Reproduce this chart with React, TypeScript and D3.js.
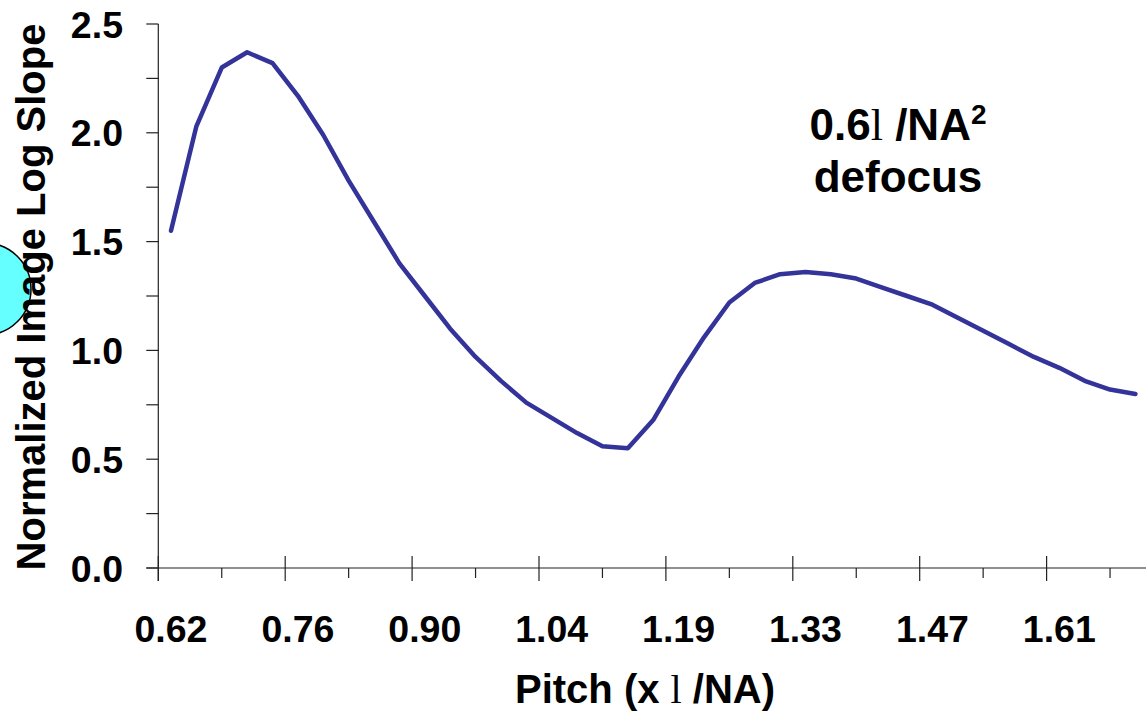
import React from 'react';
import * as d3 from 'd3';

// pitch categories (x lambda/NA), one per data point
const pitches = [
  '0.62', '0.65', '0.68', '0.71', '0.73', '0.76', '0.79', '0.82', '0.85', '0.87',
  '0.90', '0.93', '0.96', '0.99', '1.02', '1.04', '1.07', '1.10', '1.13', '1.16',
  '1.19', '1.21', '1.24', '1.27', '1.30', '1.33', '1.36', '1.38', '1.41', '1.44',
  '1.47', '1.50', '1.53', '1.55', '1.58', '1.61', '1.64', '1.67', '1.70',
];

// normalized image log slope at 0.6 lambda/NA^2 defocus
const nils = [
  1.55, 2.03, 2.30, 2.37, 2.32, 2.17, 1.99, 1.78, 1.59, 1.40,
  1.25, 1.10, 0.97, 0.86, 0.76, 0.69, 0.62, 0.56, 0.55, 0.68,
  0.88, 1.06, 1.22, 1.31, 1.35, 1.36, 1.35, 1.33, 1.29, 1.25,
  1.21, 1.15, 1.09, 1.03, 0.97, 0.92, 0.86, 0.82, 0.80,
];

const yTicks = [0, 0.5, 1.0, 1.5, 2.0, 2.5];
const yMinorTicks = [0.25, 0.75, 1.25, 1.75, 2.25];

const W = 1146;
const H = 714;
const FONT = '"Liberation Sans", Arial, sans-serif';
const SERIF = '"Liberation Serif", "Times New Roman", serif';

export default function App() {
  const left = 158.3;
  const step = 25.38;
  const x = d3.scaleBand<string>()
    .domain(pitches)
    .range([left, left + step * pitches.length])
    .padding(0);
  const y = d3.scaleLinear().domain([0, 2.5]).range([568, 24]);

  const cx = (c: string) => (x(c) as number) + x.bandwidth() / 2;

  const line = d3.line<number>()
    .x((_, i) => cx(pitches[i]))
    .y(d => y(d));

  // major ticks on category boundaries every 5 categories, minor halfway between
  const majorIdx = d3.range(0, pitches.length, 5);
  const minorIdx = majorIdx.map(i => i + 2.5);
  const x0 = x.range()[0];
  const s = x.step();
  const y0 = y(0);

  return (
    <svg width={W} height={H} style={{ position: 'absolute', left: 0, top: 0, background: '#fff' }}>
      {/* cyan marker behind the y title */}
      <circle cx={-15} cy={289} r={46} fill="#66ffff" stroke="#000" strokeWidth={1.5} />

      {/* y axis */}
      <line x1={x0} x2={x0} y1={y(2.5)} y2={y0 + 13} stroke="#222" strokeWidth={1.2} />
      {[...yTicks, ...yMinorTicks].map(t => (
        <line key={'yt' + t} x1={x0 - 12} x2={x0} y1={y(t)} y2={y(t)} stroke="#222" strokeWidth={1.2} />
      ))}
      {yTicks.map(t => (
        <text key={'yl' + t} x={123} y={y(t)} dy="0.36em" textAnchor="end"
          fontFamily={FONT} fontWeight="bold" fontSize={37.5} fill="#000">
          {d3.format('.1f')(t)}
        </text>
      ))}

      {/* x axis */}
      <line x1={x0 - 12} x2={x.range()[1]} y1={y0} y2={y0} stroke="#222" strokeWidth={1.2} />
      {majorIdx.map(i => (
        <line key={'xm' + i} x1={x0 + i * s} x2={x0 + i * s} y1={y0 - 12} y2={y0 + 13} stroke="#222" strokeWidth={1.2} />
      ))}
      {minorIdx.map(i => (
        <line key={'xn' + i} x1={x0 + i * s} x2={x0 + i * s} y1={y0} y2={y0 + 10} stroke="#222" strokeWidth={1.2} />
      ))}
      {majorIdx.map(i => (
        <text key={'xl' + i} x={cx(pitches[i])} y={642} textAnchor="middle"
          fontFamily={FONT} fontWeight="bold" fontSize={37.5} fill="#000">
          {pitches[i]}
        </text>
      ))}

      {/* data line */}
      <path d={line(nils) as string} fill="none" stroke="#333399" strokeWidth={4.5} strokeLinejoin="round" strokeLinecap="round" />

      {/* axis titles */}
      <text x={645} y={703} textAnchor="middle" fontFamily={FONT} fontWeight="bold" fontSize={40} fill="#000">
        Pitch (x <tspan fontFamily={SERIF} fontWeight="normal">l</tspan> /NA)
      </text>
      <text transform="translate(45,297) rotate(-90)" textAnchor="middle"
        fontFamily={FONT} fontWeight="bold" fontSize={40} fill="#000">
        Normalized Image Log Slope
      </text>

      {/* annotation */}
      <text x={898} y={140} textAnchor="middle" fontFamily={FONT} fontWeight="bold" fontSize={44} fill="#000">
        0.6<tspan fontFamily={SERIF} fontWeight="normal">l</tspan> /NA<tspan fontSize={28} dy={-16}>2</tspan>
      </text>
      <text x={898} y={192} textAnchor="middle" fontFamily={FONT} fontWeight="bold" fontSize={44} fill="#000">
        defocus
      </text>
    </svg>
  );
}
